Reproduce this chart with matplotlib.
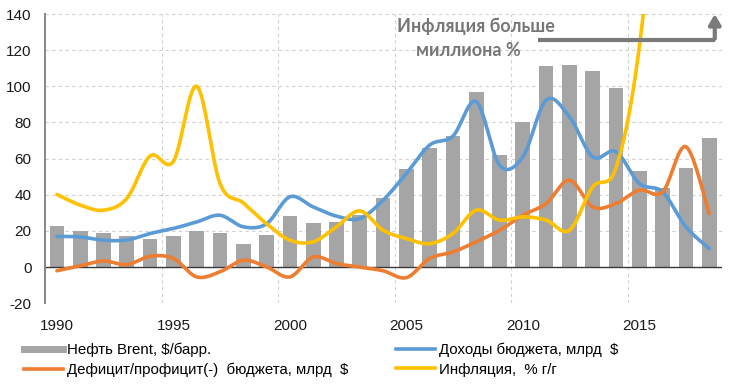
import numpy as np
import matplotlib
matplotlib.use("Agg")
import matplotlib.pyplot as plt
from matplotlib.lines import Line2D

years = np.arange(1990, 2019)
oil_brent = [23, 20, 19, 17, 15.8, 17, 20, 19, 13, 18,
             28.5, 24.5, 25, 29, 38, 54.5, 66, 72.5, 97, 62,
             80, 111, 111.6, 108.7, 99, 53, 44, 54.7, 71.5]
revenue = [17, 16.7, 14.9, 15, 18.6, 21.4, 25, 28.7, 22.3, 24,
           38.9, 33.3, 28.2, 26.9, 37, 51.8, 67.5, 72.5, 91.5, 56.4,
           61, 92.4, 83.2, 61, 63.8, 46.3, 41.6, 22.3, 10.3]
deficit = [-2, 0.7, 3.4, 1.4, 6, 4.8, -5.4, -2.6, 3.8, 0.1,
           -5.4, 5.6, 2, 0, -2, -5.8, 4.8, 8.4, 14, 20.4,
           28.7, 35.2, 48.1, 33.3, 35.2, 42.6, 41.6, 66.6, 29.6]
# inflation leaves the chart after 2015 (goes past a million % by 2018)
infl_years = np.arange(1990, 2018)
inflation = [40.2, 34.3, 31.5, 38, 61.5, 58.5, 100, 46.3, 35.5, 24,
             14.9, 14, 22.3, 31.1, 20.4, 15.8, 13, 18.6, 31.5, 26,
             27.8, 26, 20.4, 44.4, 55, 121.7, 254.9, 438.1]
x_labels = ["1990", "1995", "2000", "2005", "2010", "2015"]

labels = ["Нефть Brent, $/барр.", "Дефицит/профицит(-)  бюджета, млрд  $",
          "Доходы бюджета, млрд  $", "Инфляция,  % г/г"]
c_gray = "#A5A5A5"
c_blue = "#5B9BD5"
c_orange = "#ED7D31"
c_yellow = "#FFC000"

plt.rcParams['font.family'] = ['Liberation Sans', 'DejaVu Sans']
plt.rcParams['axes.unicode_minus'] = False


def smooth(x, y, n=40):
    # excel-like smoothed line: bezier segments, catmull-rom control points
    x = np.asarray(x, float)
    y = np.asarray(y, float)
    xs, ys = [], []
    t = np.linspace(0, 1, n)
    for i in range(len(x) - 1):
        a = max(i - 1, 0)
        d = min(i + 2, len(x) - 1)
        cx1 = x[i] + (x[i + 1] - x[a]) / 6
        cy1 = y[i] + (y[i + 1] - y[a]) / 6
        cx2 = x[i + 1] - (x[d] - x[i]) / 6
        cy2 = y[i + 1] - (y[d] - y[i]) / 6
        bx = (1-t)**3*x[i] + 3*(1-t)**2*t*cx1 + 3*(1-t)*t**2*cx2 + t**3*x[i+1]
        by = (1-t)**3*y[i] + 3*(1-t)**2*t*cy1 + 3*(1-t)*t**2*cy2 + t**3*y[i+1]
        xs.extend(bx)
        ys.extend(by)
    return np.array(xs), np.array(ys)


fig = plt.figure(figsize=(7.42, 3.85), dpi=100)
ax = fig.add_axes([45.3/742, 1-303.3/385, (722-45.3)/742, (303.3-14)/385])

ax.bar(years, oil_brent, width=0.63, color=c_gray, zorder=2)
for yy, col in [(revenue, c_blue), (deficit, c_orange)]:
    sx, sy = smooth(years, yy)
    ax.plot(sx, sy, color=col, lw=2.6, zorder=3, solid_capstyle='round')
sx, sy = smooth(infl_years, inflation)
ax.plot(sx, sy, color=c_yellow, lw=2.6, zorder=4, solid_capstyle='round')

ax.set_xlim(1989.5, 2018.55)
ax.set_ylim(-20, 140)
ax.set_yticks(np.arange(-20, 141, 20))
ax.set_xticks([int(s) for s in x_labels])
ax.set_xticklabels(x_labels)
ax.set_xticks(np.arange(1994.5, 2015, 5), minor=True)
ax.tick_params(axis='both', which='both', length=0, labelsize=11,
               labelcolor='#1a1a1a')
ax.tick_params(axis='y', pad=10)
ax.tick_params(axis='x', pad=11)

ax.grid(True, axis='y', which='major', ls=(0, (3, 3)), color='#d0d0d0', lw=0.8, zorder=0)
ax.grid(True, axis='x', which='minor', ls=(0, (3, 3)), color='#d0d0d0', lw=0.8, zorder=0)
for s in ['top', 'right', 'bottom']:
    ax.spines[s].set_visible(False)
ax.spines['left'].set_color('#868686')
ax.spines['left'].set_linewidth(1.4)
ax.axhline(0, color='#3a3a3a', lw=1.0, zorder=2.5)

# annotation: arrow + text
arr_c = '#7a7a7a'
ax.plot([2010.63, 2018.24], [125.6, 125.6], color=arr_c, lw=3, clip_on=False,
        zorder=5, solid_capstyle='butt')
ax.annotate('', xy=(2018.24, 141.5), xytext=(2018.24, 124.8),
            arrowprops=dict(arrowstyle='-|>,head_length=0.6,head_width=0.35',
                            color=arr_c, lw=3), annotation_clip=False, zorder=5)
fig.text(476/742, 1-26/385, "Инфляция больше", ha='center', va='center',
         fontsize=13, fontweight='bold', color='#767676', family=['Lato', 'DejaVu Sans'])
fig.text(468/742, 1-50/385, "миллиона %", ha='center', va='center',
         fontsize=13, fontweight='bold', color='#767676', family=['Lato', 'DejaVu Sans'])

handles = [Line2D([], [], color=c_gray, lw=5),
           Line2D([], [], color=c_orange, lw=2.6),
           Line2D([], [], color=c_blue, lw=2.6),
           Line2D([], [], color=c_yellow, lw=2.6)]
kw = dict(frameon=False, fontsize=10.8, handlelength=2.6, handletextpad=0.25,
          labelspacing=0.35, borderpad=0, borderaxespad=0, loc='upper left')
fig.legend(handles[:2], labels[:2], bbox_to_anchor=(24/742, 1-343/385), **kw)
fig.legend(handles[2:], labels[2:], bbox_to_anchor=(396/742, 1-343/385), **kw)

fig.savefig("out.png", dpi=100)
